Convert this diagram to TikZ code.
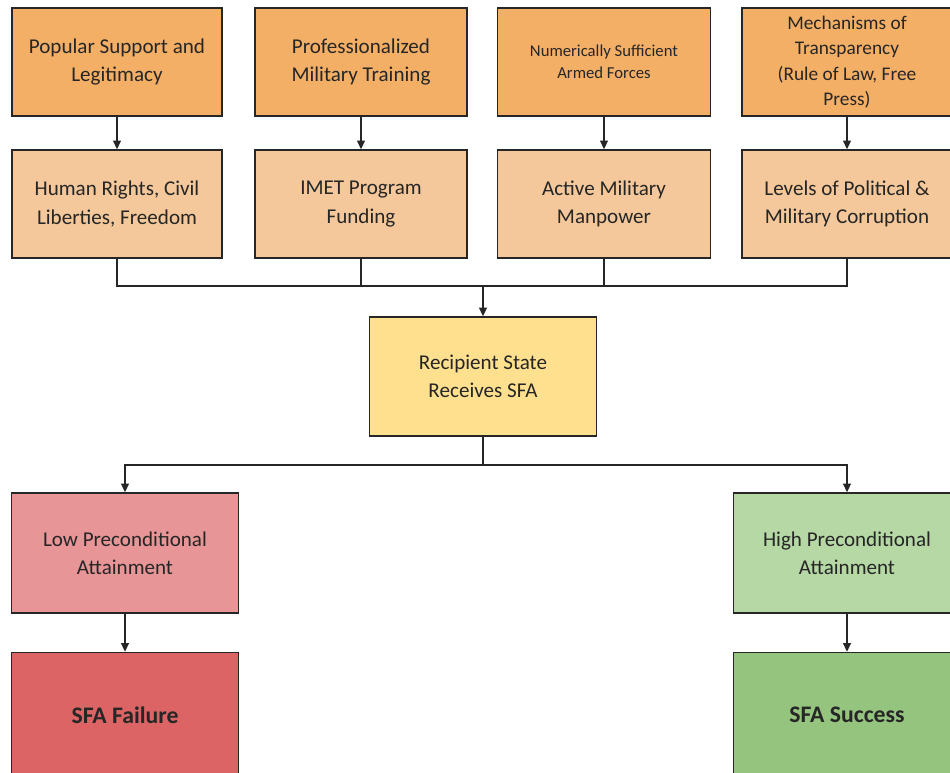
\documentclass[tikz,border=0pt]{standalone}
\usepackage{fontspec}
\setmainfont{Carlito}
\usetikzlibrary{arrows.meta}

\definecolor{topor}{HTML}{F4AF67}
\definecolor{lightor}{HTML}{F4C89A}
\definecolor{recyel}{HTML}{FEE08F}
\definecolor{lowred}{HTML}{E79596}
\definecolor{failred}{HTML}{DC6464}
\definecolor{highgr}{HTML}{B5D8A4}
\definecolor{succgr}{HTML}{94C47E}
\definecolor{edge}{HTML}{262626}

\begin{document}
\begin{tikzpicture}[x=0.02cm,y=-0.02cm,
  box/.style={draw=edge,line width=0.8pt,align=center,inner sep=2pt,
    text=edge,font=\fontsize{12}{16}\selectfont},
  arr/.style={-{Triangle[length=5pt,width=4.5pt]},line width=0.8pt,draw=edge},
  link/.style={line width=0.8pt,draw=edge}]
\useasboundingbox (0,0) rectangle (950,773);
\clip (0,0) rectangle (950,773);
\node[box,fill=topor,minimum width=4.2cm,minimum height=2.16cm] (popular) at (117,62) {Popular Support and\\Legitimacy};
\node[box,fill=topor,minimum width=4.24cm,minimum height=2.16cm] (training) at (361,62) {Professionalized\\Military Training};
\node[box,fill=topor,minimum width=4.26cm,minimum height=2.16cm,font=\fontsize{9.5}{12.5}\selectfont] (numeric) at (604,62) {Numerically Sufficient\\Armed Forces};
\node[box,fill=topor,minimum width=4.2cm,minimum height=2.16cm,font=\fontsize{11}{14.5}\selectfont] (transparency) at (847,62) {Mechanisms of\\Transparency\\(Rule of Law, Free\\Press)};
\node[box,fill=lightor,minimum width=4.2cm,minimum height=2.16cm] (humanrights) at (117,204) {Human Rights, Civil\\Liberties, Freedom};
\node[box,fill=lightor,minimum width=4.24cm,minimum height=2.16cm] (imet) at (361,204) {IMET Program\\Funding};
\node[box,fill=lightor,minimum width=4.26cm,minimum height=2.16cm] (manpower) at (604,204) {Active Military\\Manpower};
\node[box,fill=lightor,minimum width=4.2cm,minimum height=2.16cm] (corruption) at (847,204) {Levels of Political \&\\Military Corruption};
\node[box,fill=recyel,minimum width=4.54cm,minimum height=2.38cm] (recipient) at (483,376.5) {Recipient State\\Receives SFA};
\node[box,fill=lowred,minimum width=4.54cm,minimum height=2.4cm] (low) at (125,553) {Low Preconditional\\Attainment};
\node[box,fill=highgr,minimum width=4.54cm,minimum height=2.4cm] (high) at (847,553) {High Preconditional\\Attainment};
\node[box,fill=failred,minimum width=4.54cm,minimum height=2.5cm,font=\fontsize{13.5}{16}\selectfont\bfseries] (failure) at (125,715) {SFA Failure};
\node[box,fill=succgr,minimum width=4.54cm,minimum height=2.5cm,font=\fontsize{13.5}{16}\selectfont\bfseries] (success) at (847,715) {SFA Success};
\coordinate (busA) at (483,286);
\coordinate (busB) at (483,465);
\draw[arr] (popular) -- (humanrights);
\draw[arr] (training) -- (imet);
\draw[arr] (numeric) -- (manpower);
\draw[arr] (transparency) -- (corruption);
\draw[link] (humanrights.south) |- (busA) -| (corruption.south);
\draw[link] (imet.south) -- (imet.south |- busA);
\draw[link] (manpower.south) -- (manpower.south |- busA);
\draw[arr] (busA) -- (recipient.north);
\draw[link] (recipient.south) -- (busB);
\draw[arr] (busB) -| (low.north);
\draw[arr] (busB) -| (high.north);
\draw[arr] (low) -- (failure);
\draw[arr] (high) -- (success);
\end{tikzpicture}
\end{document}
